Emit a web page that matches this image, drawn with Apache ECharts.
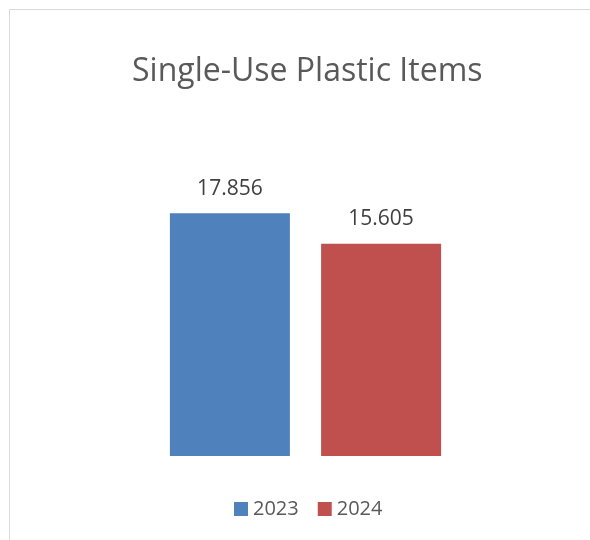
<!DOCTYPE html>
<html><head><meta charset="utf-8">
<script src="https://cdn.jsdelivr.net/npm/echarts@6/dist/echarts.min.js"></script>
<style>html,body{margin:0;padding:0;background:#fff}#c{width:590px;height:540px}</style>
</head><body><div id="c"></div>
<script>
var titleText = 'Single-Use Plastic Items';
var categories = ['Single-Use Plastic Items'];
var seriesNames = ['2023', '2024'];
var values2023 = [17.856];
var values2024 = [15.605];
var colors = ['#4F81BD', '#C0504D'];

var chart = echarts.init(document.getElementById('c'));
var lbl = {show: true, position: 'top', distance: 14, fontFamily: 'Open Sans', fontSize: 21, color: '#404040', formatter: function(p){return p.value.toFixed(3);}};
chart.setOption({
  animation: false,
  graphic: [{type: 'rect', shape: {x: 9.5, y: 9.5, width: 600, height: 560}, style: {fill: 'none', stroke: '#d9d9d9', lineWidth: 1}, silent: true}],
  title: {text: titleText, left: 127, top: 51, textStyle: {fontFamily: 'Open Sans', fontWeight: 'normal', fontSize: 32, color: '#595959'}},
  legend: {top: 494, left: 229, itemWidth: 14, itemHeight: 14, itemGap: 19, icon: 'rect',
    textStyle: {fontFamily: 'Open Sans', fontSize: 20, color: '#595959'}, data: seriesNames},
  grid: {left: 30, right: 9, top: 184, bottom: 84},
  xAxis: {type: 'category', data: categories, show: false},
  yAxis: {type: 'value', min: 0, max: 20, show: false, splitLine: {show: false}},
  series: [
    {name: seriesNames[0], type: 'bar', data: values2023, barWidth: 120, barGap: '26%', itemStyle: {color: colors[0]}, label: lbl},
    {name: seriesNames[1], type: 'bar', data: values2024, barWidth: 120, itemStyle: {color: colors[1]}, label: lbl}
  ]
});
</script></body></html>
